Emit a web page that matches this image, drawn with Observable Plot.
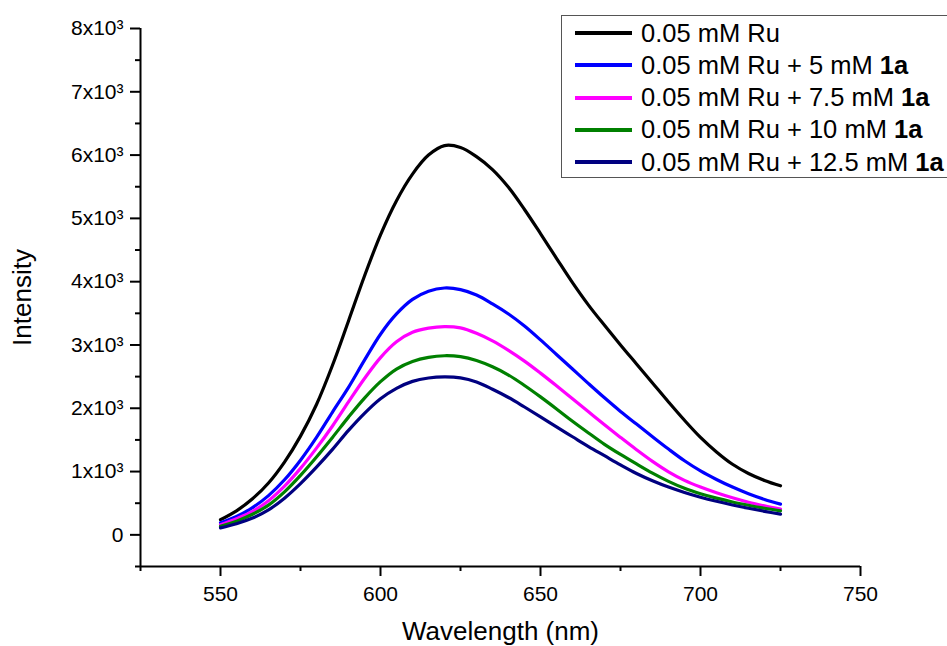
<!DOCTYPE html>
<html><head><meta charset="utf-8">
<script src="https://cdn.jsdelivr.net/npm/d3@7"></script>
<script src="https://cdn.jsdelivr.net/npm/@observablehq/plot@0.6"></script>
<style>
body{margin:0;background:#fff;overflow:hidden;}
#wrap{position:relative;width:947px;height:646px;overflow:hidden;background:#fff;}
#legend{position:absolute;left:561px;top:15px;width:430px;height:163px;border:1px solid #555;background:#fff;font-family:"Liberation Sans",Arial,sans-serif;font-size:25.5px;color:#000;box-sizing:border-box;}
.row{position:absolute;left:0;height:32px;display:flex;align-items:center;white-space:nowrap;}
.sw{display:inline-block;width:57px;height:4px;margin-left:13px;margin-right:9px;}
</style></head>
<body><div id="wrap"><div id="chart"></div><div id="legend"></div></div>
<script>
const wavelength = [550,555,560,565,570,575,580,585,590,595,600,605,610,615,620,625,630,635,640,645,650,655,660,665,670,675,680,685,690,695,700,705,710,715,720,725];
const ru      = [240,380,570,820,1150,1560,2060,2680,3380,4090,4740,5280,5700,6000,6150,6120,5975,5770,5490,5140,4760,4370,3985,3630,3310,3000,2700,2400,2100,1810,1540,1310,1115,970,860,775];
const ru_5    = [190,290,430,620,870,1180,1540,1940,2330,2760,3170,3490,3720,3850,3900,3875,3790,3650,3490,3300,3080,2850,2620,2390,2165,1950,1750,1550,1355,1170,1010,875,755,650,560,485];
const ru_7_5  = [160,255,370,540,770,1050,1370,1720,2100,2470,2800,3050,3200,3265,3290,3270,3185,3065,2915,2745,2555,2355,2150,1945,1740,1540,1345,1160,995,860,755,665,585,515,457,406];
const ru_10   = [135,215,325,470,680,940,1230,1540,1860,2160,2420,2620,2740,2805,2830,2815,2755,2655,2525,2360,2180,1990,1795,1610,1430,1270,1120,975,845,735,650,580,520,468,420,379];
const ru_12_5 = [110,175,265,395,580,810,1070,1350,1650,1920,2150,2315,2425,2478,2495,2480,2415,2300,2170,2020,1865,1705,1550,1395,1250,1105,970,855,755,670,595,530,472,420,372,327];

const seriesNames = ["0.05 mM Ru", "0.05 mM Ru + 5 mM 1a", "0.05 mM Ru + 7.5 mM 1a", "0.05 mM Ru + 10 mM 1a", "0.05 mM Ru + 12.5 mM 1a"];
const seriesColors = ["#000000", "#0000ff", "#ff00ff", "#008000", "#000080"];
const seriesValues = [ru, ru_5, ru_7_5, ru_10, ru_12_5];

const xMajorTicks = [550, 600, 650, 700, 750];
const xMinorTicks = [525, 575, 625, 675, 725];
const yMajorTicks = [0, 1000, 2000, 3000, 4000, 5000, 6000, 7000, 8000];
const yMinorTicks = [-500, 500, 1500, 2500, 3500, 4500, 5500, 6500, 7500];

const rows = [];
seriesNames.forEach((s, i) => {
  wavelength.forEach((w, j) => rows.push({series: s, w, v: seriesValues[i][j]}));
});

const yFmt = d => d === 0 ? "0" : `${d / 1000}x10³`;

const chart = Plot.plot({
  width: 947, height: 646,
  marginLeft: 140, marginRight: 87, marginTop: 28, marginBottom: 80,
  style: {fontFamily: "'Liberation Sans', Arial, sans-serif", fontSize: "21px", background: "#fff", color: "#000"},
  x: {domain: [525, 750]},
  y: {domain: [-500, 8000]},
  color: {domain: seriesNames, range: seriesColors},
  marks: [
    Plot.axisX(xMajorTicks, {tickSize: 10, tickPadding: 10, tickFormat: d => String(d), strokeWidth: 2, fontSize: 21, label: null}),
    Plot.axisX(xMinorTicks, {tickSize: 5, tickFormat: () => "", strokeWidth: 2, label: null}),
    Plot.axisX([], {label: "Wavelength (nm)", labelAnchor: "center", labelArrow: "none", labelOffset: 73, fontSize: 26, tickSize: 0}),
    Plot.axisY(yMajorTicks, {tickSize: 10, tickPadding: 7, tickFormat: yFmt, strokeWidth: 2, fontSize: 21, label: null}),
    Plot.axisY(yMinorTicks, {tickSize: 5, tickFormat: () => "", strokeWidth: 2, label: null}),
    Plot.axisY([], {label: "Intensity", labelAnchor: "center", labelArrow: "none", labelOffset: 128, fontSize: 26, tickSize: 0}),
    Plot.ruleY([-500], {stroke: "#000", strokeWidth: 2}),
    Plot.ruleX([525], {stroke: "#000", strokeWidth: 2}),
    Plot.line(rows, {x: "w", y: "v", z: "series", stroke: "series", strokeWidth: 3.2, curve: "catmull-rom"})
  ]
});
document.getElementById("chart").appendChild(chart);

const legend = document.getElementById("legend");
seriesNames.forEach((s, i) => {
  const row = document.createElement("div");
  row.className = "row";
  row.style.top = (1 + 32.25 * i) + "px";
  const sw = document.createElement("span");
  sw.className = "sw";
  sw.style.background = seriesColors[i];
  row.appendChild(sw);
  const txt = document.createElement("span");
  if (s.endsWith(" 1a")) {
    txt.innerHTML = s.slice(0, -2) + "<b>1a</b>";
  } else {
    txt.textContent = s;
  }
  row.appendChild(txt);
  legend.appendChild(row);
});
</script>
</body></html>
